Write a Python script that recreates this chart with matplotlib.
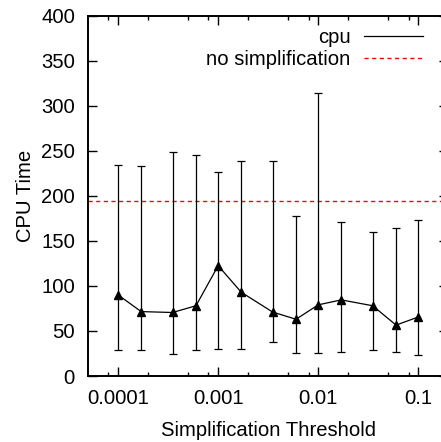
import matplotlib
matplotlib.use("Agg")
import matplotlib.pyplot as plt
from matplotlib.lines import Line2D
from matplotlib.ticker import FixedLocator, NullFormatter
import numpy as np

plt.rcParams['font.family'] = ['Liberation Sans', 'DejaVu Sans']

# data
thresholds = [0.0001, 0.00017, 0.00035, 0.0006, 0.001, 0.0017, 0.0035,
              0.006, 0.01, 0.017, 0.035, 0.06, 0.1]
cpu_mean = [90, 71.5, 70.5, 78, 122.5, 93, 71, 63, 79, 84.5, 78, 56.5, 65.5]
cpu_low = [29, 29, 24.5, 29, 30, 30.5, 37.5, 26, 25, 26.5, 29, 27, 23]
cpu_high = [234.5, 233.5, 248.5, 245.5, 226.5, 238.5, 239, 177.5, 314, 171.5, 159.5, 164.5, 173]
no_simplification = 194

x_ticks = [0.0001, 0.001, 0.01, 0.1]
x_tick_labels = ["0.0001", "0.001", "0.01", "0.1"]
x_minor = [8e-5, 2e-4, 5e-4, 8e-4, 2e-3, 5e-3, 8e-3, 2e-2, 5e-2, 8e-2, 0.2]
y_ticks = list(range(0, 401, 50))

fs = 14.6

fig = plt.figure(figsize=(4.41, 4.42), dpi=100)
# axes run past the right edge, like the cropped gnuplot original
ax = fig.add_axes([88 / 441, 66 / 442, 360.4 / 441, 360.3 / 442])

mean = np.array(cpu_mean)
yerr = [mean - np.array(cpu_low), np.array(cpu_high) - mean]
ax.errorbar(thresholds, cpu_mean, yerr=yerr, fmt='-', marker='^', color='black',
            ms=6, lw=0.9, elinewidth=0.9, capsize=3.2, capthick=0.9, zorder=3)
ax.axhline(no_simplification, color='#ff0000', lw=1.0, ls=(0, (3, 2.5)), zorder=2)

ax.set_xscale('log')
ax.set_xlim(5e-5, 0.2)
ax.set_ylim(0, 400)
ax.xaxis.set_major_locator(FixedLocator(x_ticks))
ax.set_xticklabels(x_tick_labels)
ax.xaxis.set_minor_locator(FixedLocator(x_minor))
ax.xaxis.set_minor_formatter(NullFormatter())
ax.set_yticks(y_ticks)

ax.tick_params(which='both', direction='in', top=True, right=True,
               labelsize=fs, width=1.0, color='black')
ax.tick_params(axis='y', which='major', length=6.5, pad=9.4)
ax.tick_params(axis='x', which='major', length=6.5, pad=9)
ax.tick_params(axis='x', which='minor', length=3.2)
for s in ax.spines.values():
    s.set_linewidth(1.4)

ax.set_xlabel("Simplification Threshold", fontsize=fs)
ax.set_ylabel("CPU Time", fontsize=fs)
ax.xaxis.set_label_coords(0.5, -0.124)
ax.yaxis.set_label_coords(-0.148, 0.5)

handles = [Line2D([], [], color='black', lw=0.9),
           Line2D([], [], color='#ff0000', lw=1.0, ls=(0, (3, 2.5)))]
ax.legend(handles, ["cpu", "no simplification"], loc='upper right',
          bbox_to_anchor=(422.7 / 441, 1 - 28 / 442), bbox_transform=fig.transFigure,
          frameon=False, markerfirst=False, fontsize=fs, handlelength=2.9,
          handletextpad=0.65, labelspacing=0.15, borderpad=0, borderaxespad=0)

fig.savefig("out.png", dpi=100)
